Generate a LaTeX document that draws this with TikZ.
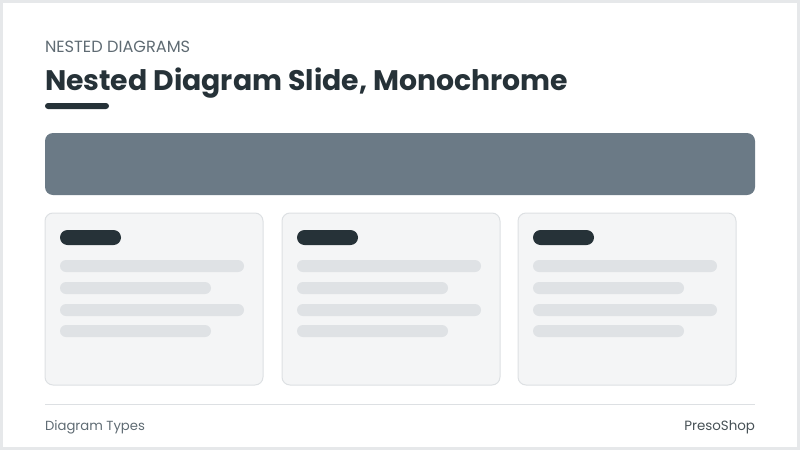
\documentclass[tikz,border=0pt]{standalone}
\usepackage{fontspec}
\setmainfont{Poppins}
\usetikzlibrary{positioning}
\definecolor{slate}{HTML}{263238}
\definecolor{mutedgrey}{HTML}{5F6B73}
\definecolor{barblue}{HTML}{6B7A86}
\definecolor{cardfill}{HTML}{F4F5F6}
\definecolor{cardline}{HTML}{DDE0E3}
\definecolor{lineshade}{HTML}{DFE2E5}
\definecolor{framegrey}{HTML}{E6E8EA}

\begin{document}
\begin{tikzpicture}[x=1pt, y=-1pt,
every node/.append style={inner sep=0pt, outer sep=0pt},
card/.style={draw=cardline, fill=cardfill, line width=1pt, rounded corners=8pt,
	minimum width=218pt, minimum height=172pt, anchor=north west},
pill/.style={fill=slate, rounded corners=7.5pt, minimum width=61pt,
	minimum height=15pt, anchor=north west},
longline/.style={fill=lineshade, rounded corners=6pt, minimum width=184pt,
	minimum height=12pt, anchor=north west},
shortline/.style={longline, minimum width=151pt}]

\useasboundingbox (0,0) rectangle (800,450);
\draw[framegrey, line width=3pt] (1.5,1.5) rectangle (798.5,448.5);

\node[anchor=base west, color=mutedgrey, font=\fontsize{16.2}{19}\selectfont] at (45, 52) (Kicker){NESTED DIAGRAMS};
\node[anchor=base west, color=slate, font=\fontsize{28.3}{32}\selectfont\bfseries] at (45, 90) (Title){Nested Diagram Slide, Monochrome};
\node[fill=slate, rounded corners=3pt, minimum width=64pt, minimum height=6pt, anchor=north west] at (45, 103) (Rule){};

\node[fill=barblue, rounded corners=8pt, minimum width=710pt, minimum height=62pt, anchor=north west] at (45, 133) (Banner){};

% first card
\node[card] at (45, 213) (C1){};
\node[pill] at (60, 230) (P1){};
\node[longline] at (60, 260) (L11){};
\node[shortline] at (60, 282) (L12){};
\node[longline] at (60, 304) (L13){};
\node[shortline] at (60, 325) (L14){};

% second card
\node[card] at (282, 213) (C2){};
\node[pill] at (297, 230) (P2){};
\node[longline] at (297, 260) (L21){};
\node[shortline] at (297, 282) (L22){};
\node[longline] at (297, 304) (L23){};
\node[shortline] at (297, 325) (L24){};

% third card
\node[card] at (518, 213) (C3){};
\node[pill] at (533, 230) (P3){};
\node[longline] at (533, 260) (L31){};
\node[shortline] at (533, 282) (L32){};
\node[longline] at (533, 304) (L33){};
\node[shortline] at (533, 325) (L34){};

\coordinate (F1) at (45, 404);
\coordinate (F2) at (755, 404);
\draw[cardline, line width=1pt] (F1) -- (F2);

\node[anchor=base west, color=mutedgrey, font=\fontsize{13.2}{16}\selectfont] at (45, 430) (Types){Diagram Types};
\node[anchor=base east, color=slate!85, font=\fontsize{13.4}{16}\selectfont] at (755, 430) (Brand){PresoShop};
\end{tikzpicture}
\end{document}
